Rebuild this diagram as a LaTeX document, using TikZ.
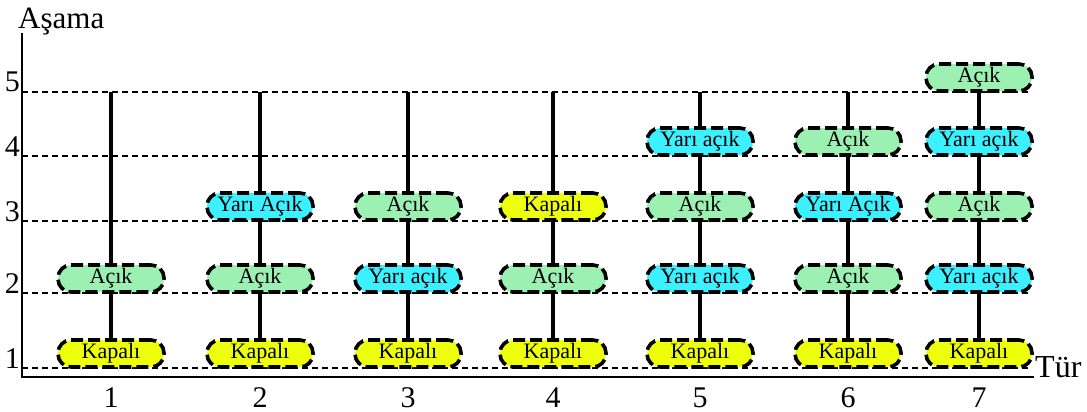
\documentclass[tikz,border=0pt]{standalone}
\usepackage{fontspec}
\setmainfont{Liberation Serif}
\definecolor{acikc}{RGB}{155,240,178}
\definecolor{yaric}{RGB}{60,240,255}
\definecolor{kapc}{RGB}{238,255,10}
\tikzset{
  box/.style={draw=black, line width=3.6pt, dash pattern=on 12pt off 5pt,
    rounded corners=13pt, minimum width=106pt, minimum height=27pt,
    inner sep=0pt, anchor=center, font=\fontsize{22}{22}\selectfont},
  kap/.style={box, fill=kapc},
  acik/.style={box, fill=acikc},
  yari/.style={box, fill=yaric},
  grid/.style={line width=1.5pt, dash pattern=on 6pt off 4pt},
  axis/.style={line width=2pt},
  stem/.style={line width=3.4pt},
  bigl/.style={font=\fontsize{30}{30}\selectfont, inner sep=0pt},
  ylab/.style={font=\fontsize{30}{30}\selectfont, inner sep=0pt, anchor=base east},
}
\begin{document}
\begin{tikzpicture}[x=1pt,y=-1pt]
\useasboundingbox (0,0) rectangle (1087,412);
% grid lines
\foreach \lv/\yy in {5/92,4/156,3/221,2/293,1/368}{
  \draw[grid] (22,\yy) -- (1030,\yy);
  \node[ylab] (yl\lv) at (20,\yy) {\lv};
}
% axes
\coordinate (ytop) at (22,33);
\coordinate (orig) at (22,377);
\coordinate (xend) at (1034,377);
\draw[axis] (ytop) -- (orig) -- (xend);
\node[font=\fontsize{31}{31}\selectfont, inner sep=0pt, anchor=base west] (asama) at (18,29) {Aşama};
\node[font=\fontsize{32}{32}\selectfont, inner sep=0pt, anchor=base west] (tur) at (1035,377) {Tür};
% column labels
\foreach \c/\xx in {1/111,2/260,3/408,4/553,5/700,6/848,7/979}{
  \node[bigl, anchor=base] (cl\c) at (\xx,407) {\c};
  \coordinate (top\c) at (\xx,92);
}
% stems
\path (111,353.5) coordinate (s1) (260,353.5) coordinate (s2) (408,353.5) coordinate (s3)
      (553,353.5) coordinate (s4) (700,353.5) coordinate (s5) (848,353.5) coordinate (s6)
      (979,353.5) coordinate (s7) (979,77.5) coordinate (e7);
\foreach \c in {1,...,6}{\draw[stem] (s\c) -- (top\c);}
\draw[stem] (s7) -- (e7);
% column 1
\node[kap]  (k1) at (s1) {Kapalı};
\node[acik] (a12) at (111,278.5) {Açık};
% column 2
\node[kap]  (k2) at (s2) {Kapalı};
\node[acik] (a22) at (260,278.5) {Açık};
\node[yari] (y23) at (260,206.5) {Yarı Açık};
% column 3
\node[kap]  (k3) at (s3) {Kapalı};
\node[yari] (y32) at (408,278.5) {Yarı açık};
\node[acik] (a33) at (408,206.5) {Açık};
% column 4
\node[kap]  (k4) at (s4) {Kapalı};
\node[acik] (a42) at (553,278.5) {Açık};
\node[kap]  (k43) at (553,206.5) {Kapalı};
% column 5
\node[kap]  (k5) at (s5) {Kapalı};
\node[yari] (y52) at (700,278.5) {Yarı açık};
\node[acik] (a53) at (700,206.5) {Açık};
\node[yari] (y54) at (700,141.5) {Yarı açık};
% column 6
\node[kap]  (k6) at (s6) {Kapalı};
\node[acik] (a62) at (848,278.5) {Açık};
\node[yari] (y63) at (848,206.5) {Yarı Açık};
\node[acik] (a64) at (848,141.5) {Açık};
% column 7
\node[kap]  (k7) at (s7) {Kapalı};
\node[yari] (y72) at (979,278.5) {Yarı açık};
\node[acik] (a73) at (979,206.5) {Açık};
\node[yari] (y74) at (979,141.5) {Yarı açık};
\node[acik] (a75) at (e7) {Açık};
\end{tikzpicture}
\end{document}
